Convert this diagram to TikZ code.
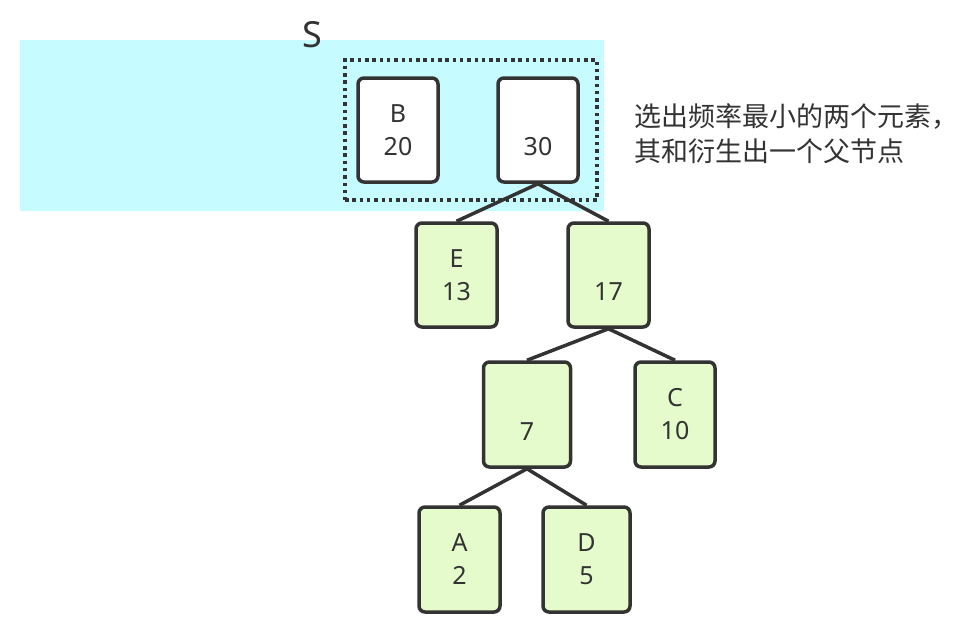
\documentclass[tikz,border=0pt]{standalone}
\usepackage{fontspec}
\setmainfont{Noto Sans}
\newfontfamily\cjk{Noto Sans CJK SC}
\definecolor{cyanbg}{HTML}{C6FBFF}
\definecolor{leaf}{HTML}{E5FBCC}
\definecolor{ink}{HTML}{333333}
\tikzset{
  tnode/.style={draw=ink, line width=3.5pt, rounded corners=6pt, minimum width=80pt, minimum height=104pt,
    align=center, text=ink, font=\fontsize{25}{33}\selectfont, inner sep=0pt},
  whitenode/.style={tnode, fill=white},
  greennode/.style={tnode, fill=leaf},
  edge/.style={draw=ink, line width=3.5pt},
  selbox/.style={draw=ink, line width=3.5pt, dash pattern=on 3.5pt off 3.8pt, minimum width=252pt, minimum height=140pt, inner sep=0pt}
}
\begin{document}
\begin{tikzpicture}[x=1pt,y=-1pt]
\useasboundingbox (0,0) rectangle (963,643);
\fill[cyanbg] (20,40) rectangle (604,211);
\node[text=ink, font=\fontsize{36}{40}\selectfont, inner sep=0pt] (S) at (312,35) {S};
\node[selbox] (sel) at (471,130) {};
\node[whitenode] (B) at (398,130) {B\\20};
\node[whitenode] (n30) at (538,130) {\phantom{B}\\30};
\node[greennode, minimum width=81pt] (E) at (456.5,275) {E\\13};
\node[greennode, minimum width=81pt] (n17) at (608.5,275) {\phantom{E}\\17};
\node[greennode, minimum width=87pt, minimum height=105pt] (n7) at (527,414.5) {\phantom{C}\\7};
\node[greennode, minimum height=105pt] (C) at (675,414.5) {C\\10};
\node[greennode, minimum width=81pt, minimum height=105pt] (A) at (459.5,559.5) {A\\2};
\node[greennode, minimum width=87pt, minimum height=105pt] (D) at (586.5,559.5) {D\\5};
\draw[edge] (n30.south) -- (E.north);
\draw[edge] (n30.south) -- (n17.north);
\draw[edge] (n17.south) -- (n7.north);
\draw[edge] (n17.south) -- (C.north);
\draw[edge] (n7.south) -- (A.north);
\draw[edge] (n7.south) -- (D.north);
\node[anchor=west, align=left, text=ink, font=\cjk\fontsize{27}{35}\selectfont, inner sep=0pt] (note) at (634,134) {选出频率最小的两个元素，\\其和衍生出一个父节点};
\end{tikzpicture}
\end{document}
